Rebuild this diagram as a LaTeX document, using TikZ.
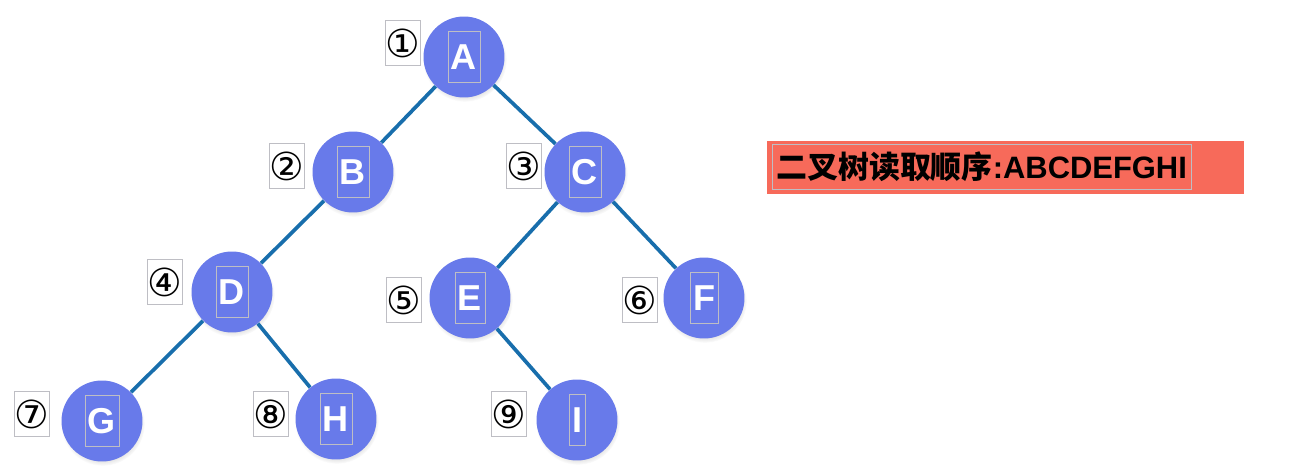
\documentclass[tikz,border=0pt]{standalone}
\usepackage{fontspec}
\setmainfont{Liberation Sans}
\newfontfamily\cjk{Noto Sans CJK SC}
\newfontfamily\circfont{DejaVu Sans}
\usetikzlibrary{shadows}

\definecolor{nodeblue}{RGB}{104,122,234}
\definecolor{edgeblue}{RGB}{24,110,172}
\definecolor{framegray}{RGB}{190,190,196}
\definecolor{readred}{RGB}{247,106,90}

\begin{document}
\begin{tikzpicture}[x=0.02cm, y=-0.02cm,
  vnode/.style={circle, fill=nodeblue, minimum size=1.62cm, inner sep=0pt,
    circular drop shadow={opacity=0.25, shadow xshift=0.4pt, shadow yshift=-1.5pt, shadow scale=1.04}},
  letter/.style={draw=framegray, line width=0.4pt, text=white,
    font=\bfseries\fontsize{20.5}{24}\selectfont, minimum height=1.02cm, inner xsep=0.06cm, inner ysep=0pt},
  order/.style={draw=framegray, line width=0.4pt, font=\circfont\fontsize{22}{26}\selectfont,
    minimum width=0.66cm, minimum height=0.9cm, inner sep=0pt},
  link/.style={edgeblue, line width=2.1pt}]
  \useasboundingbox (0,0) rectangle (1306,476);

  % tree nodes
  \node[vnode, label={[letter]center:A}] (a) at (464,57) {};
  \node[vnode, label={[letter]center:B}] (b) at (353,172) {};
  \node[vnode, label={[letter]center:C}] (c) at (585,172) {};
  \node[vnode, label={[letter]center:D}] (d) at (232,292) {};
  \node[vnode, label={[letter]center:E}] (e) at (470,298) {};
  \node[vnode, label={[letter]center:F}] (f) at (704,298) {};
  \node[vnode, label={[letter]center:G}] (g) at (102,421) {};
  \node[vnode, label={[letter]center:H}] (h) at (336,419) {};
  \node[vnode, label={[letter]center:I}] (i) at (577,420) {};

  % links
  \draw[link] (a) -- (b);
  \draw[link] (a) -- (c);
  \draw[link] (b) -- (d);
  \draw[link] (c) -- (e);
  \draw[link] (c) -- (f);
  \draw[link] (d) -- (g);
  \draw[link] (d) -- (h);
  \draw[link] (e) -- (i);

  % reading order
  \node[order] (n1) at (403,43) {①};
  \node[order] (n2) at (287,166) {②};
  \node[order] (n3) at (524,166) {③};
  \node[order] (n4) at (165,282) {④};
  \node[order] (n5) at (404,300) {⑤};
  \node[order] (n6) at (640,300) {⑥};
  \node[order] (n7) at (32,414) {⑦};
  \node[order] (n8) at (271,414) {⑧};
  \node[order] (n9) at (509,414) {⑨};

  % result box
  \node[fill=readred, minimum width=9.54cm, minimum height=1.06cm, inner sep=0pt] (res) at (1005.5,167.5) {};
  \node[draw=framegray, anchor=west, minimum height=0.9cm, inner xsep=0.08cm, inner ysep=0pt,
    font=\fontsize{17.6}{21}\selectfont] (seq) at (772,166.5) {{\cjk\bfseries 二叉树读取顺序}\textbf{:ABCDEFGHI}};
\end{tikzpicture}
\end{document}
